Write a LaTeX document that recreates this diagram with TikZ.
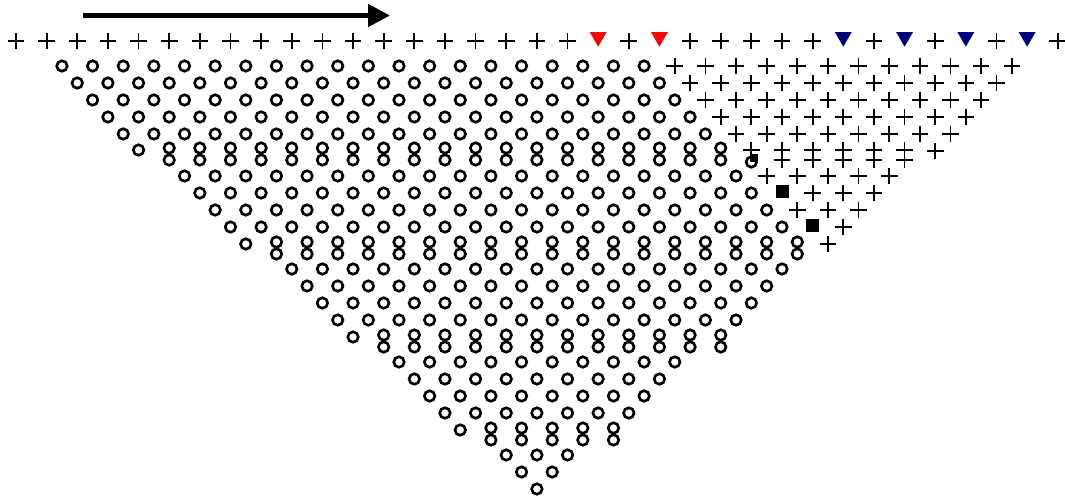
\documentclass[tikz,border=0pt]{standalone}
\usepackage{tikz}
\usetikzlibrary{
  shapes.geometric,
  shapes.misc,
  arrows.meta,
  positioning
}
\definecolor{MarkRed}{RGB}{250, 5, 5}
\definecolor{MarkBlue}{RGB}{0, 0, 125}
\tikzset{
  ringmark/.style={circle, draw, line width=1.5pt, minimum size=0.21cm, inner sep=0pt},
  crossmark/.style={cross out, draw, rotate=45, line width=1pt, minimum size=0.2cm, inner sep=0pt},
  flagmark/.style={regular polygon, regular polygon sides=3, shape border rotate=180, minimum size=0.39cm, inner sep=0pt},
  blockmark/.style={rectangle, fill=black, minimum size=0.26cm, inner sep=0pt}
}

\begin{document}
\begin{tikzpicture}[x=0.02cm, y=-0.02cm]
  \useasboundingbox (0,0) rectangle (1065,499);

  % arrow above the first row
  \coordinate (arrowtail) at (83,15.5);
  \coordinate (arrowhead) at (390,15.5);
  \draw[line width=2.8pt, -{Triangle[length=12.5pt, width=12.5pt]}] (arrowtail) -- (arrowhead);

  % first row with markers
  \foreach \i in {0,2,...,36}
    \node[crossmark] (t-\i) at ({16+15.32*\i},41) {};
  \foreach \i in {40,44,46,48,50,52,56,60,64,68}
    \node[crossmark] (t-\i) at ({16+15.32*\i},41) {};
  \foreach \i in {38,42}
    \node[flagmark, fill=MarkRed] (t-\i) at ({16+15.32*\i},37) {};
  \foreach \i in {54,58,62,66}
    \node[flagmark, fill=MarkBlue] (t-\i) at ({16+15.32*\i},37) {};

  % rows with rings on the left and crosses on the right
  \foreach \r/\y/\a/\c/\s/\b in {1/66/3/41/43/65, 2/83/4/42/44/64, 3/100/5/43/45/63,
      4/117/6/44/46/62, 5/134/7/45/47/61, 7/176/11/47/49/57, 8/193/12/48/52/56,
      9/210/13/49/51/55, 10/227/14/50/54/54} {
    \pgfmathtruncatemacro\m{(\c-\a)/2}
    \foreach \k in {0,...,\m} {
      \pgfmathtruncatemacro\i{\a+2*\k}
      \node[ringmark] (r\r-\i) at ({16+15.32*\i},\y) {};
    }
    \pgfmathtruncatemacro\n{(\b-\s)/2}
    \foreach \k in {0,...,\n} {
      \pgfmathtruncatemacro\i{\s+2*\k}
      \node[crossmark] (r\r-\i) at ({16+15.32*\i},\y) {};
    }
  }

  % rows of rings only
  \foreach \r/\y/\a/\b in {12/269/18/50, 13/286/19/49, 14/303/20/48, 15/320/21/47,
      17/362/25/43, 18/379/26/42, 19/396/27/41, 20/413/28/40,
      22/455/32/36, 23/472/33/35, 24/489/34/34} {
    \pgfmathtruncatemacro\m{(\b-\a)/2}
    \foreach \k in {0,...,\m} {
      \pgfmathtruncatemacro\i{\a+2*\k}
      \node[ringmark] (r\r-\i) at ({16+15.32*\i},\y) {};
    }
  }

  % doubled rows
  \foreach \r/\y/\a/\b in {6/148/8/46, 11/242/15/51, 16/335/22/46, 21/428/29/39} {
    \node[ringmark] (r\r-\a) at ({16+15.32*\a},\y+2) {};
    \pgfmathtruncatemacro\m{(\b-\a)/2-1}
    \foreach \k in {0,...,\m} {
      \pgfmathtruncatemacro\i{\a+2+2*\k}
      \node[ringmark] (r\r t-\i) at ({16+15.32*\i},\y) {};
      \node[ringmark] (r\r b-\i) at ({16+15.32*\i},\y+12) {};
    }
  }
  \node[crossmark] (r6t-48) at ({16+15.32*48},150) {};
  \node[ringmark] (r6b-48) at ({16+15.32*48},162) {};
  \foreach \i in {50,52,...,58} {
    \node[crossmark] (r6t-\i) at ({16+15.32*\i},150) {};
    \node[crossmark] (r6b-\i) at ({16+15.32*\i},160) {};
  }
  \node[crossmark] (r6-60) at ({16+15.32*60},151) {};
  \node[crossmark] (r11-53) at ({16+15.32*53},244) {};

  % black squares
  \node[blockmark, minimum size=0.17cm] (sq6) at (754,158) {};
  \node[blockmark] (sq8) at ({16+15.32*50},192) {};
  \node[blockmark] (sq10) at ({16+15.32*52},226) {};
\end{tikzpicture}
\end{document}
